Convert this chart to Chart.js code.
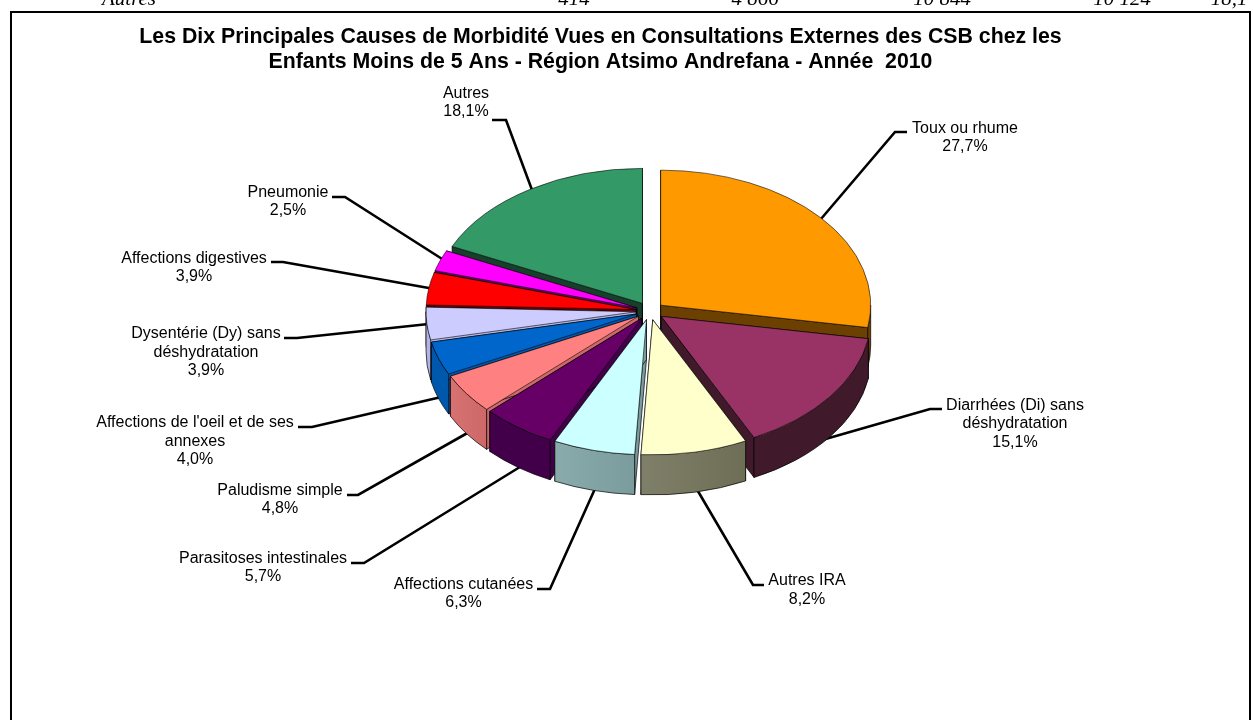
<!DOCTYPE html>
<html>
<head>
<meta charset="utf-8">
<style>
  html, body { margin: 0; padding: 0; background: #fff; overflow: hidden; }
  canvas { display: block; }
</style>
<script src="https://cdn.jsdelivr.net/npm/chart.js@4/dist/chart.umd.js"></script>
</head>
<body>
<canvas id="morbidite" width="1253" height="720"></canvas>
<script>
const categories = ['Toux ou rhume', 'Diarrhées (Di) sans déshydratation', 'Autres IRA', 'Affections cutanées',
  'Parasitoses intestinales', 'Paludisme simple', "Affections de l'oeil et de ses annexes",
  'Dysentérie (Dy) sans déshydratation', 'Affections digestives', 'Pneumonie', 'Autres'];
const shares = [27.7, 15.1, 8.2, 6.3, 5.7, 4.8, 4.0, 3.9, 3.9, 2.5, 18.1];
const topColours = ['#FF9900', '#993366', '#FFFFCC', '#CCFFFF', '#660066', '#FF8080', '#0066CC', '#CCCCFF', '#FF0000', '#FF00FF', '#339966'];
const wallColours = ['#6B4000', '#401A2B', '#6E6E56', '#7A9C9C', '#43004A', '#CC6868', '#0058AC', '#B4B4E4', '#6B0000', '#6B006B', '#16402B'];
const rimLeftColours = ['#6B4000', '#401A2B', '#80806A', '#8AABAB', '#43004A', '#D87272', '#0058AC', '#B4B4E4', '#6B0000', '#6B006B', '#16402B'];
const titleLines = ['Les Dix Principales Causes de Morbidité Vues en Consultations Externes des CSB chez les',
  'Enfants Moins de 5 Ans - Région Atsimo Andrefana - Année  2010'];
const headerRow = ['Autres', '414', '4 866', '10 844', '10 124', '18,1'];

// page layout, not data
const pie = { x: 650, y: 311, radius: 210, squash: 0.643, depth: 40, explode: 14 };
const titleX = 600.5;
const titleY = [43, 68];
const headerX = [129, 574, 755, 942, 1122, 1229];
const labelLayout = [
  { x: 965, y: [133, 151], lines: ['Toux ou rhume'], path: [[907, 132], [895, 132], [815, 226]] },
  { x: 1015, y: [410, 428, 447], lines: ['Diarrhées (Di) sans', 'déshydratation'], path: [[942, 409], [930, 409], [822, 440]] },
  { x: 807, y: [585, 604], lines: ['Autres IRA'], path: [[764, 585], [753, 585], [692, 481]] },
  { x: 463.5, y: [589, 607], lines: ['Affections cutanées'], path: [[537, 589], [550, 589], [598, 482]] },
  { x: 263, y: [563, 581], lines: ['Parasitoses intestinales'], path: [[351, 563], [364, 563], [528, 462]] },
  { x: 280, y: [495, 513], lines: ['Paludisme simple'], path: [[347, 495], [358, 495], [478, 427]] },
  { x: 195, y: [427, 446, 464], lines: ["Affections de l'oeil et de ses", 'annexes'], path: [[298, 427], [312, 427], [450, 395]] },
  { x: 206, y: [338, 357, 375], lines: ['Dysentérie (Dy) sans', 'déshydratation'], path: [[284, 338], [297, 338], [438, 323]] },
  { x: 194, y: [263, 281], lines: ['Affections digestives'], path: [[271, 262], [283, 262], [440, 290]] },
  { x: 288, y: [197, 215], lines: ['Pneumonie'], path: [[332, 197], [345, 197], [450, 264]] },
  { x: 466, y: [98, 116], lines: ['Autres'], path: [[492, 120], [506, 120], [535, 198]] }
];

function percent(v) {
  return v.toFixed(1).replace('.', ',') + '%';
}

function drawWalls(ctx, arc, i) {
  const mid = (arc.startAngle + arc.endAngle) / 2;
  const cx = arc.x + Math.cos(mid) * pie.explode;
  const cy = arc.y + Math.sin(mid) * pie.explode * pie.squash;
  const r = arc.outerRadius;
  const ry = r * pie.squash;
  ctx.fillStyle = wallColours[i];
  ctx.strokeStyle = '#000';
  ctx.lineWidth = 0.7;
  // cut faces
  [arc.startAngle, arc.endAngle].forEach(a => {
    const ex = cx + Math.cos(a) * r;
    const ey = cy + Math.sin(a) * ry;
    ctx.beginPath();
    ctx.moveTo(cx, cy);
    ctx.lineTo(ex, ey);
    ctx.lineTo(ex, ey + pie.depth);
    ctx.lineTo(cx, cy + pie.depth);
    ctx.closePath();
    ctx.fill();
    ctx.stroke();
  });
  // rim, only the front half of the ellipse shows
  const a0 = Math.max(arc.startAngle, 0);
  const a1 = Math.min(arc.endAngle, Math.PI);
  if (a1 > a0) {
    const shade = ctx.createLinearGradient(cx + r * Math.cos(a1), 0, cx + r * Math.cos(a0), 0);
    shade.addColorStop(0, rimLeftColours[i]);
    shade.addColorStop(1, wallColours[i]);
    ctx.fillStyle = shade;
    ctx.beginPath();
    ctx.ellipse(cx, cy, r, ry, 0, a0, a1);
    ctx.ellipse(cx, cy + pie.depth, r, ry, 0, a1, a0, true);
    ctx.closePath();
    ctx.fill();
    ctx.stroke();
  }
}

const pie3d = {
  id: 'pie3d',
  beforeDatasetsDraw(chart) {
    const ctx = chart.ctx;
    const arcs = chart.getDatasetMeta(0).data;

    ctx.save();
    ctx.fillStyle = '#000';
    ctx.font = 'italic 21px "Liberation Serif"';
    ctx.textAlign = 'center';
    headerRow.forEach((t, i) => ctx.fillText(t, headerX[i], 5));
    ctx.fillStyle = '#fff';
    ctx.strokeStyle = '#000';
    ctx.lineWidth = 2;
    ctx.fillRect(11, 12, 1239, 720);
    ctx.strokeRect(11, 12, 1239, 720);

    ctx.fillStyle = '#000';
    ctx.font = 'bold 21.3px "Liberation Sans"';
    titleLines.forEach((t, i) => ctx.fillText(t, titleX, titleY[i]));

    ctx.font = '16px "Liberation Sans"';
    ctx.lineWidth = 2.6;
    labelLayout.forEach((lab, i) => {
      lab.lines.concat(percent(shares[i])).forEach((t, j) => ctx.fillText(t, lab.x, lab.y[j]));
      ctx.beginPath();
      lab.path.forEach((p, j) => j ? ctx.lineTo(p[0], p[1]) : ctx.moveTo(p[0], p[1]));
      ctx.stroke();
    });

    // back slices first so nearer ones paint over them
    const order = arcs.map((a, i) => i).sort((p, q) =>
      Math.sin((arcs[p].startAngle + arcs[p].endAngle) / 2) - Math.sin((arcs[q].startAngle + arcs[q].endAngle) / 2));
    order.forEach(i => {
      const arc = arcs[i];
      const mid = (arc.startAngle + arc.endAngle) / 2;
      drawWalls(ctx, arc, i);
      ctx.save();
      ctx.translate(arc.x + Math.cos(mid) * pie.explode, arc.y + Math.sin(mid) * pie.explode * pie.squash);
      ctx.scale(1, pie.squash);
      ctx.translate(-arc.x, -arc.y);
      arc.draw(ctx);
      ctx.restore();
    });
    ctx.restore();
    return false;
  }
};

new Chart(document.getElementById('morbidite'), {
  type: 'pie',
  data: {
    labels: categories,
    datasets: [{
      data: shares,
      backgroundColor: topColours,
      borderColor: '#000',
      borderWidth: 0.7,
      radius: pie.radius
    }]
  },
  options: {
    responsive: false,
    animation: false,
    layout: { padding: { left: 2 * pie.x - 1253, bottom: 720 - 2 * pie.y } },
    plugins: { legend: { display: false }, tooltip: { enabled: false } }
  },
  plugins: [pie3d]
});
</script>
</body>
</html>
